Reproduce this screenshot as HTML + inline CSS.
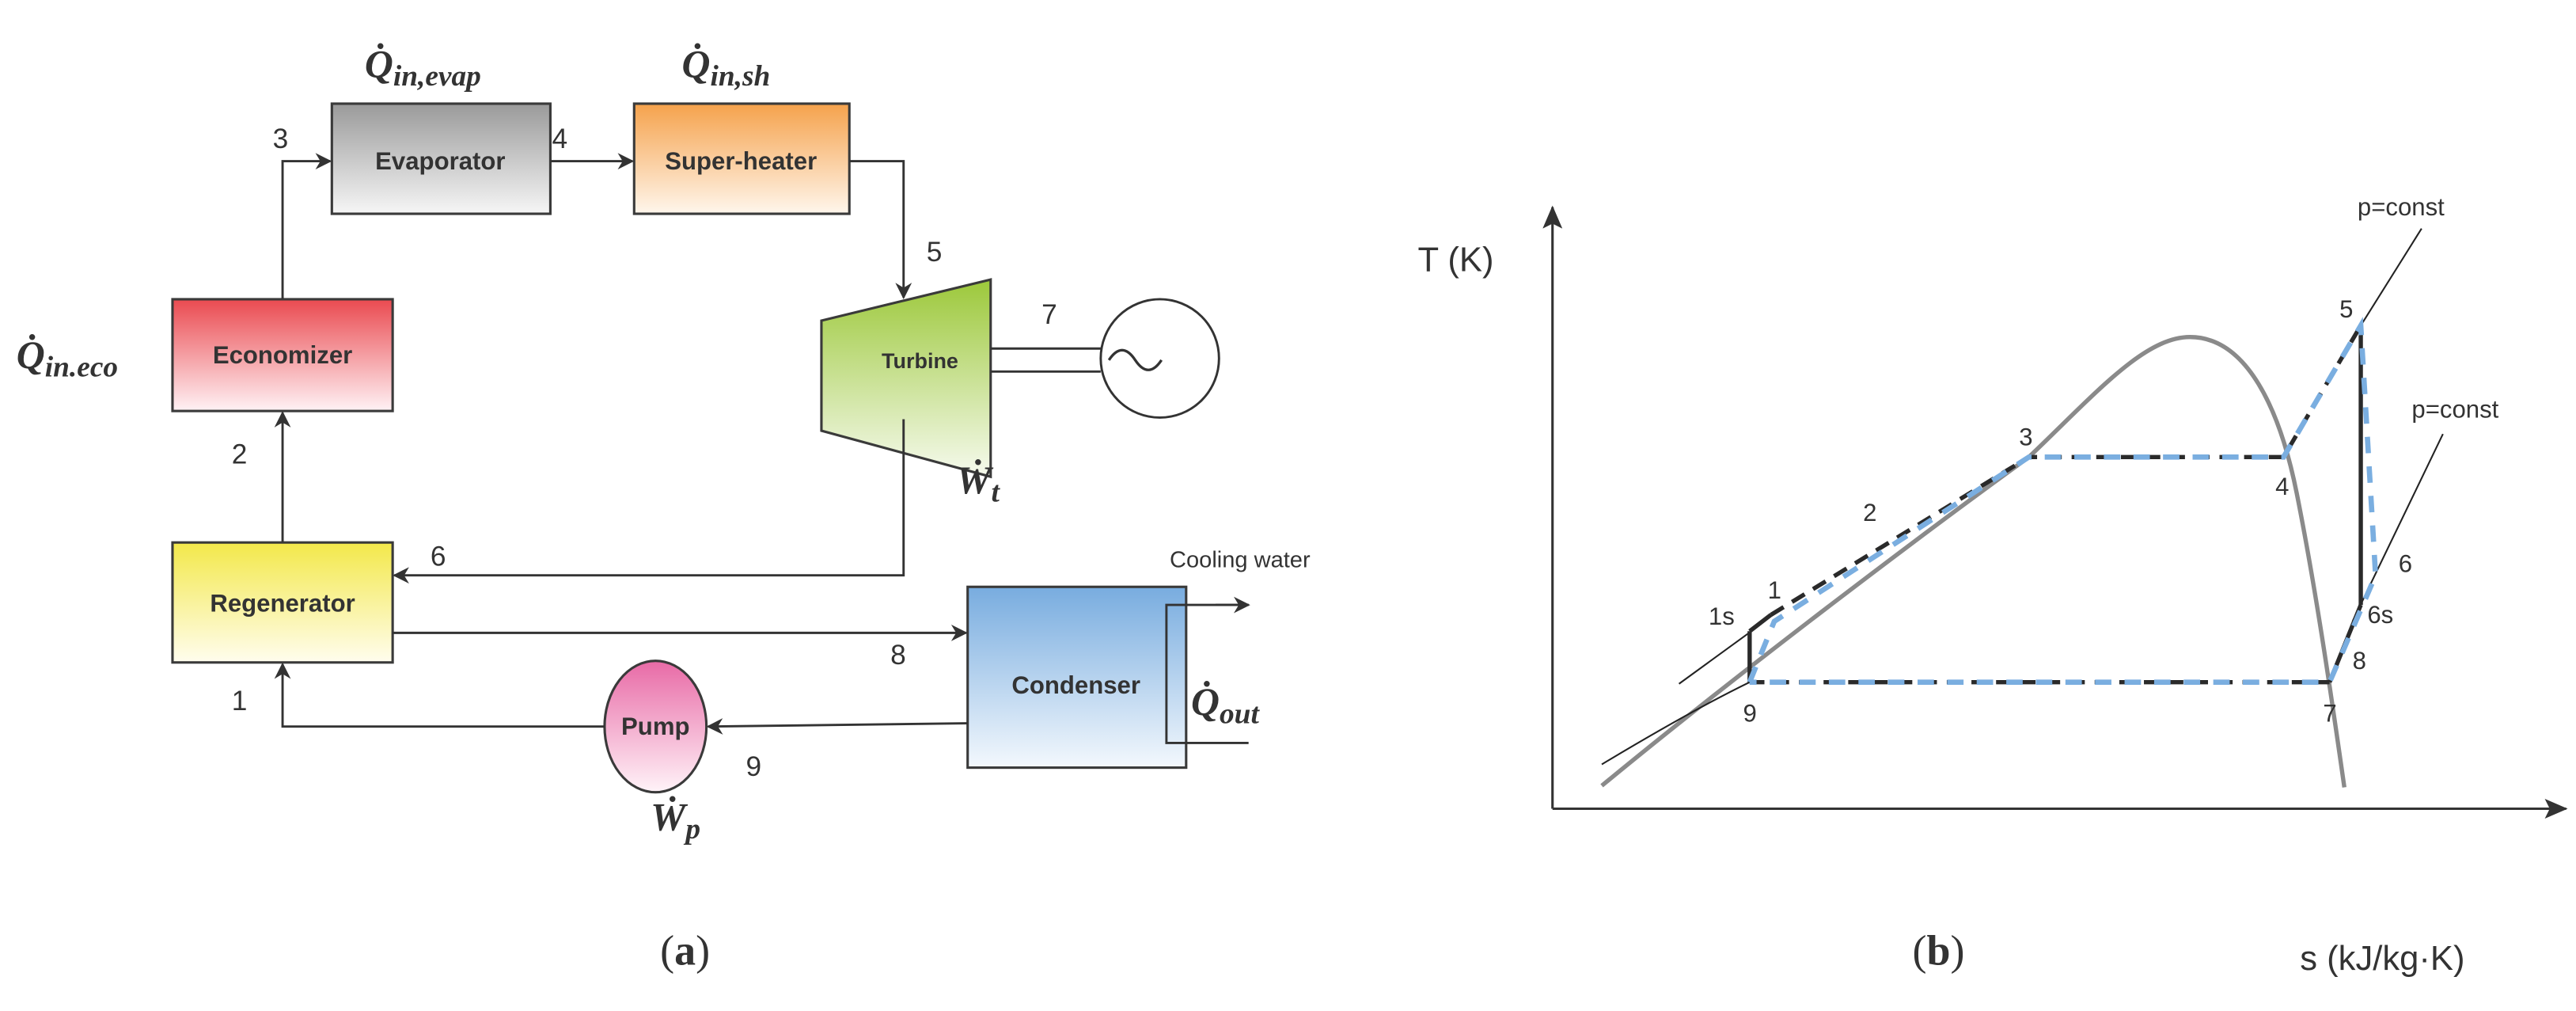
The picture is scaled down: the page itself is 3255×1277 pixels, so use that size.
<!DOCTYPE html>
<html><head><meta charset="utf-8"><style>
html,body{margin:0;padding:0;background:#fff;}
svg{display:block;}
.lbl{font-family:"Liberation Sans",sans-serif;fill:#333;}
.box{font-family:"Liberation Sans",sans-serif;font-weight:bold;fill:#333;font-size:15px;}
.q{font-family:"Liberation Serif",serif;font-style:italic;fill:#333;font-weight:bold;}
</style></head><body>
<svg width="3255" height="1277" viewBox="0 0 1568 615" xmlns="http://www.w3.org/2000/svg">
<defs>
<linearGradient id="gEv" x1="0" y1="0" x2="0" y2="1"><stop offset="0" stop-color="#9a9a9a"/><stop offset="1" stop-color="#f6f6f6"/></linearGradient>
<linearGradient id="gSh" x1="0" y1="0" x2="0" y2="1"><stop offset="0" stop-color="#f5a24c"/><stop offset="1" stop-color="#fff6ec"/></linearGradient>
<linearGradient id="gEc" x1="0" y1="0" x2="0" y2="1"><stop offset="0" stop-color="#ea4a50"/><stop offset="1" stop-color="#fff2f5"/></linearGradient>
<linearGradient id="gTu" x1="0" y1="0" x2="0" y2="1"><stop offset="0" stop-color="#9cc83a"/><stop offset="1" stop-color="#f6faee"/></linearGradient>
<linearGradient id="gRe" x1="0" y1="0" x2="0" y2="1"><stop offset="0" stop-color="#f3e84a"/><stop offset="1" stop-color="#fffdee"/></linearGradient>
<linearGradient id="gCo" x1="0" y1="0" x2="0" y2="1"><stop offset="0" stop-color="#78acdf"/><stop offset="1" stop-color="#f3f8fd"/></linearGradient>
<linearGradient id="gPu" x1="0" y1="0" x2="0" y2="1"><stop offset="0" stop-color="#e86aa6"/><stop offset="1" stop-color="#fff3f8"/></linearGradient>
<marker id="ar" markerWidth="10" markerHeight="10" refX="9" refY="5" orient="auto" markerUnits="userSpaceOnUse"><path d="M0,0 L10,5 L0,10 L3,5 Z" fill="#333"/></marker>
<marker id="ar2" markerWidth="14" markerHeight="12" refX="13" refY="6" orient="auto" markerUnits="userSpaceOnUse"><path d="M0,0 L14,6 L0,12 L3,6 Z" fill="#333"/></marker>
</defs>

<!-- ===== Panel (a) ===== -->
<g stroke="#3a3a3a" stroke-width="1.5">
<rect x="202" y="63" width="133" height="67" fill="url(#gEv)"/>
<rect x="386" y="63" width="131" height="67" fill="url(#gSh)"/>
<rect x="105" y="182" width="134" height="68" fill="url(#gEc)"/>
<rect x="105" y="330" width="134" height="73" fill="url(#gRe)"/>
<rect x="589" y="357" width="133" height="110" fill="url(#gCo)"/>
<polygon points="500,195 603,170 603,290 500,262" fill="url(#gTu)"/>
<ellipse cx="399" cy="442" rx="31" ry="40" fill="url(#gPu)"/>
</g>
<g stroke="#333" stroke-width="1.4" fill="none">
<circle cx="706" cy="218" r="36"/>
<path d="M689,219 q8,-12 16,0 q8,12 16,0" stroke-width="1.6" transform="translate(-14,0)"/>
<line x1="603" y1="212" x2="670" y2="212"/>
<line x1="603" y1="226" x2="670" y2="226"/>
<polyline points="172,182 172,98 201,98" marker-end="url(#ar)"/>
<line x1="335" y1="98" x2="385" y2="98" marker-end="url(#ar)"/>
<polyline points="517,98 550,98 550,181" marker-end="url(#ar)"/>
<polyline points="550,255 550,350 240,350" marker-end="url(#ar)"/>
<line x1="172" y1="330" x2="172" y2="251" marker-end="url(#ar)"/>
<polyline points="239,385 500,385 588,385" marker-end="url(#ar)"/>
<polyline points="589,440 431,442" marker-end="url(#ar)"/>
<polyline points="368,442 172,442 172,404" marker-end="url(#ar)"/>
<polyline points="760,368 710,368 710,452 760,452"/>
<line x1="740" y1="368" x2="760" y2="368" marker-end="url(#ar)"/>
</g>
<g class="box" text-anchor="middle">
<text x="268" y="103">Evaporator</text>
<text x="451" y="103">Super-heater</text>
<text x="172" y="221">Economizer</text>
<text x="172" y="372">Regenerator</text>
<text x="655" y="422">Condenser</text>
<text x="399" y="447">Pump</text>
<text x="560" y="224" font-size="13">Turbine</text>
</g>
<g class="lbl" font-size="17">
<text x="166" y="90">3</text>
<text x="336" y="90">4</text>
<text x="564" y="159">5</text>
<text x="634" y="197">7</text>
<text x="262" y="344">6</text>
<text x="141" y="282">2</text>
<text x="542" y="404">8</text>
<text x="454" y="472">9</text>
<text x="141" y="432">1</text>
<text x="712" y="345" font-size="14">Cooling water</text>
</g>
<g class="q" font-size="24">
<text x="222" y="47">Q̇<tspan font-size="18" dy="5">in,evap</tspan></text>
<text x="415" y="47">Q̇<tspan font-size="18" dy="5">in,sh</tspan></text>
<text x="10" y="224">Q̇<tspan font-size="18" dy="5">in.eco</tspan></text>
<text x="725" y="435">Q̇<tspan font-size="18" dy="5">out</tspan></text>
<text x="582" y="300">Ẇ<tspan font-size="18" dy="5">t</tspan></text>
<text x="396" y="505">Ẇ<tspan font-size="18" dy="5">p</tspan></text>
</g>
<text x="417" y="587" font-family="Liberation Serif,serif" font-size="26" fill="#333" text-anchor="middle">(<tspan font-weight="bold">a</tspan>)</text>

<!-- ===== Panel (b) ===== -->
<g stroke="#333" stroke-width="1.5" fill="none">
<line x1="945" y1="492" x2="945" y2="126" marker-end="url(#ar2)"/>
<line x1="945" y1="492" x2="1562" y2="492" marker-end="url(#ar2)"/>
</g>
<!-- dome -->
<path d="M975,478 C1060,408 1170,325 1235,278 C1275,240 1305,205 1333,205 C1368,205 1388,250 1398,300 C1410,360 1420,430 1427,479" stroke="#8a8a8a" stroke-width="2.6" fill="none"/>
<!-- thin p=const lines -->
<g stroke="#222" stroke-width="1" fill="none">
<path d="M975,465 Q1030,432 1065,415"/>
<line x1="1022" y1="416" x2="1066" y2="384"/>
<line x1="1437" y1="198" x2="1474" y2="139"/>
<line x1="1432" y1="378" x2="1487" y2="264"/>
</g>
<!-- black solid/dashed cycle -->
<g stroke="#2a2a2a" stroke-width="2.6" fill="none">
<line x1="1065" y1="415" x2="1065" y2="384"/>
<line x1="1065" y1="384" x2="1078" y2="374"/>
<line x1="1437" y1="203" x2="1437" y2="368"/>
<line x1="1437" y1="368" x2="1418" y2="415"/>
</g>
<g stroke="#2a2a2a" stroke-width="2.6" fill="none" stroke-dasharray="9,6">
<polyline points="1078,374 1235,278 1390,278 1437,198"/>
<line x1="1065" y1="415" x2="1418" y2="415"/>
</g>
<g stroke="#7aaee0" stroke-width="3.2" fill="none" stroke-dasharray="10,8">
<polyline points="1065,415 1080,378 1235,278 1390,278 1437,198 1446,350 1418,415 1065,415"/>
</g>
<g class="lbl" font-size="15">
<text x="1435" y="131">p=const</text>
<text x="1468" y="254">p=const</text>
<text x="1040" y="380">1s</text>
<text x="1076" y="364">1</text>
<text x="1134" y="317">2</text>
<text x="1229" y="271">3</text>
<text x="1385" y="301">4</text>
<text x="1424" y="193">5</text>
<text x="1460" y="348">6</text>
<text x="1441" y="379">6s</text>
<text x="1432" y="407">8</text>
<text x="1414" y="439">7</text>
<text x="1061" y="439">9</text>
</g>
<text x="863" y="165" class="lbl" font-size="21">T (K)</text>
<text x="1400" y="590" class="lbl" font-size="21">s (kJ/kg·K)</text>
<text x="1180" y="587" font-family="Liberation Serif,serif" font-size="26" fill="#333" text-anchor="middle">(<tspan font-weight="bold">b</tspan>)</text>
</svg>
</body></html>
